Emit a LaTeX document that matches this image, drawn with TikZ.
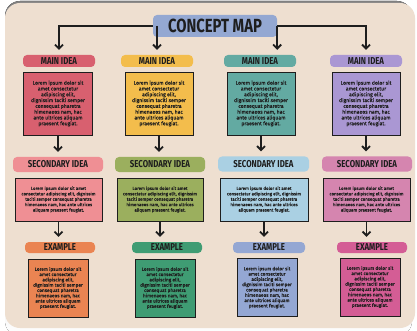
\documentclass[tikz,border=0pt]{standalone}
\usepackage{fontspec}
\setmainfont{Fira Sans}
\newfontfamily\headfont[FakeStretch=0.78]{Fira Sans}
\newfontfamily\bodyfont[FakeBold=0.6]{Fira Sans}
\usetikzlibrary{arrows.meta}

\definecolor{paper}{HTML}{EEDFD0}
\definecolor{shade}{HTML}{A98BEB}
\definecolor{titleblue}{HTML}{94A8D2}
\definecolor{mainred}{HTML}{D8606F}
\definecolor{mainyellow}{HTML}{F3BD4C}
\definecolor{mainteal}{HTML}{63AAA2}
\definecolor{mainlilac}{HTML}{AA97D3}
\definecolor{secpink}{HTML}{EF8F94}
\definecolor{secolive}{HTML}{9BAF5E}
\definecolor{secblue}{HTML}{AAD0E3}
\definecolor{secmauve}{HTML}{D585AF}
\definecolor{exorange}{HTML}{EA8452}
\definecolor{exgreen}{HTML}{3F9C73}
\definecolor{exblue}{HTML}{94A7D3}
\definecolor{exmagenta}{HTML}{D45D95}
\definecolor{ink}{HTML}{1E1E1E}

\newcommand{\maintext}{Lorem ipsum dolor sit\\amet consectetur\\adipiscing elit,\\dignissim taciti semper\\consequat pharetra\\himenaeos nam, hac\\ante ultrices aliquam\\praesent feugiat.}
\newcommand{\sectext}{Lorem ipsum dolor sit amet\\consectetur adipiscing elit, dignissim\\taciti semper consequat pharetra\\himenaeos nam, hac ante ultrices\\aliquam praesent feugiat.}

\begin{document}
\begin{tikzpicture}[x=1pt,y=-1pt,
    tag/.style={rounded corners=4pt, inner sep=0pt, text=ink,
      font=\headfont\bfseries\fontsize{10}{10}\selectfont},
    card/.style={draw=ink, line width=0.9pt, inner sep=0pt, text=ink, align=center},
    arr/.style={draw=ink, line width=1.8pt, shorten >=5pt,
      -{Straight Barb[length=4pt,width=8pt,line width=1.8pt]}}]
    \useasboundingbox (0,0) rectangle (417,331);
    \fill[white] (0,0) rectangle (417,331);
    \fill[shade, rounded corners=15pt] (5,1) rectangle (412,336);
    \fill[paper, rounded corners=15pt] (5,3) rectangle (415,328);

    % title
    \node[tag, fill=titleblue, minimum width=124pt, minimum height=22pt,
      font=\headfont\bfseries\fontsize{19}{19}\selectfont] (title) at (215,26) {CONCEPT MAP};

    % main ideas
    \node[tag, fill=mainred, minimum width=72pt, minimum height=12pt] (m1) at (59,61) {MAIN IDEA};
    \node[tag, fill=mainyellow, minimum width=72pt, minimum height=12pt] (m2) at (157,61) {MAIN IDEA};
    \node[tag, fill=mainteal, minimum width=72pt, minimum height=12pt] (m3) at (260,61) {MAIN IDEA};
    \node[tag, fill=mainlilac, minimum width=72pt, minimum height=12pt] (m4) at (366,61) {MAIN IDEA};

    \node[card, fill=mainred, minimum width=69pt, minimum height=63pt,
      font=\bodyfont\fontsize{5.1}{5.8}\selectfont] (mt1) at (58,103.5) {\maintext};
    \node[card, fill=mainyellow, minimum width=68pt, minimum height=63pt,
      font=\bodyfont\fontsize{5.1}{5.8}\selectfont] (mt2) at (159,103.5) {\maintext};
    \node[card, fill=mainteal, minimum width=68pt, minimum height=63pt,
      font=\bodyfont\fontsize{5.1}{5.8}\selectfont] (mt3) at (261,103.5) {\maintext};
    \node[card, fill=mainlilac, minimum width=68pt, minimum height=63pt,
      font=\bodyfont\fontsize{5.1}{5.8}\selectfont] (mt4) at (366,103.5) {\maintext};

    % secondary ideas
    \node[tag, fill=secpink, minimum width=90pt, minimum height=15pt] (s1) at (58,164.5) {SECONDARY IDEA};
    \node[tag, fill=secolive, minimum width=90pt, minimum height=15pt] (s2) at (160,164.5) {SECONDARY IDEA};
    \node[tag, fill=secblue, minimum width=91pt, minimum height=15pt] (s3) at (263.5,164) {SECONDARY IDEA};
    \node[tag, fill=secmauve, minimum width=90pt, minimum height=15pt] (s4) at (367,164) {SECONDARY IDEA};

    \node[card, fill=secpink, minimum width=87pt, minimum height=43pt,
      font=\bodyfont\fontsize{4.4}{5.4}\selectfont] (st1) at (58.5,199.5) {\sectext};
    \node[card, fill=secolive, minimum width=86pt, minimum height=43pt,
      font=\bodyfont\fontsize{4.4}{5.4}\selectfont] (st2) at (160,199.5) {\sectext};
    \node[card, fill=secblue, minimum width=88pt, minimum height=43pt,
      font=\bodyfont\fontsize{4.4}{5.4}\selectfont] (st3) at (264,199.5) {\sectext};
    \node[card, fill=secmauve, minimum width=87pt, minimum height=43pt,
      font=\bodyfont\fontsize{4.4}{5.4}\selectfont] (st4) at (366.5,199.5) {\sectext};

    % examples
    \node[tag, fill=exorange, minimum width=70pt, minimum height=11pt] (e1) at (60,247.5) {EXAMPLE};
    \node[tag, fill=exgreen, minimum width=70pt, minimum height=11pt] (e2) at (167,247.5) {EXAMPLE};
    \node[tag, fill=exblue, minimum width=72pt, minimum height=11pt] (e3) at (269,247.5) {EXAMPLE};
    \node[tag, fill=exmagenta, minimum width=70pt, minimum height=11pt] (e4) at (372,247.5) {EXAMPLE};

    \node[card, fill=exorange, minimum width=60pt, minimum height=58pt,
      font=\bodyfont\fontsize{4.7}{5.3}\selectfont] (et1) at (58,288) {\maintext};
    \node[card, fill=exgreen, minimum width=60pt, minimum height=58pt,
      font=\bodyfont\fontsize{4.7}{5.3}\selectfont] (et2) at (165,288) {\maintext};
    \node[card, fill=exblue, minimum width=60pt, minimum height=58pt,
      font=\bodyfont\fontsize{4.7}{5.3}\selectfont] (et3) at (267,287.5) {\maintext};
    \node[card, fill=exmagenta, minimum width=60pt, minimum height=58pt,
      font=\bodyfont\fontsize{4.7}{5.3}\selectfont] (et4) at (370,287) {\maintext};

    % arrows from the title
    \draw[arr] (title.west) -| (m1.north);
    \draw[arr] (m2.north |- title.west) -- (m2.north);
    \draw[arr] (title.east) -- (title.east |- m3.north);
    \draw[arr] (title.east) -| (m4.north);

    % arrows down the columns
    \draw[arr] (mt1.south) -- (mt1.south |- s1.north);
    \draw[arr] (mt2.south) -- (mt2.south |- s2.north);
    \draw[arr] (mt3.south) -- (mt3.south |- s3.north);
    \draw[arr] (mt4.south) -- (mt4.south |- s4.north);

    \draw[arr] (st1.south) -- (st1.south |- e1.north);
    \draw[arr] (st2.south) -- (st2.south |- e2.north);
    \draw[arr] (st3.south) -- (st3.south |- e3.north);
    \draw[arr] (st4.south) -- (st4.south |- e4.north);
\end{tikzpicture}
\end{document}
